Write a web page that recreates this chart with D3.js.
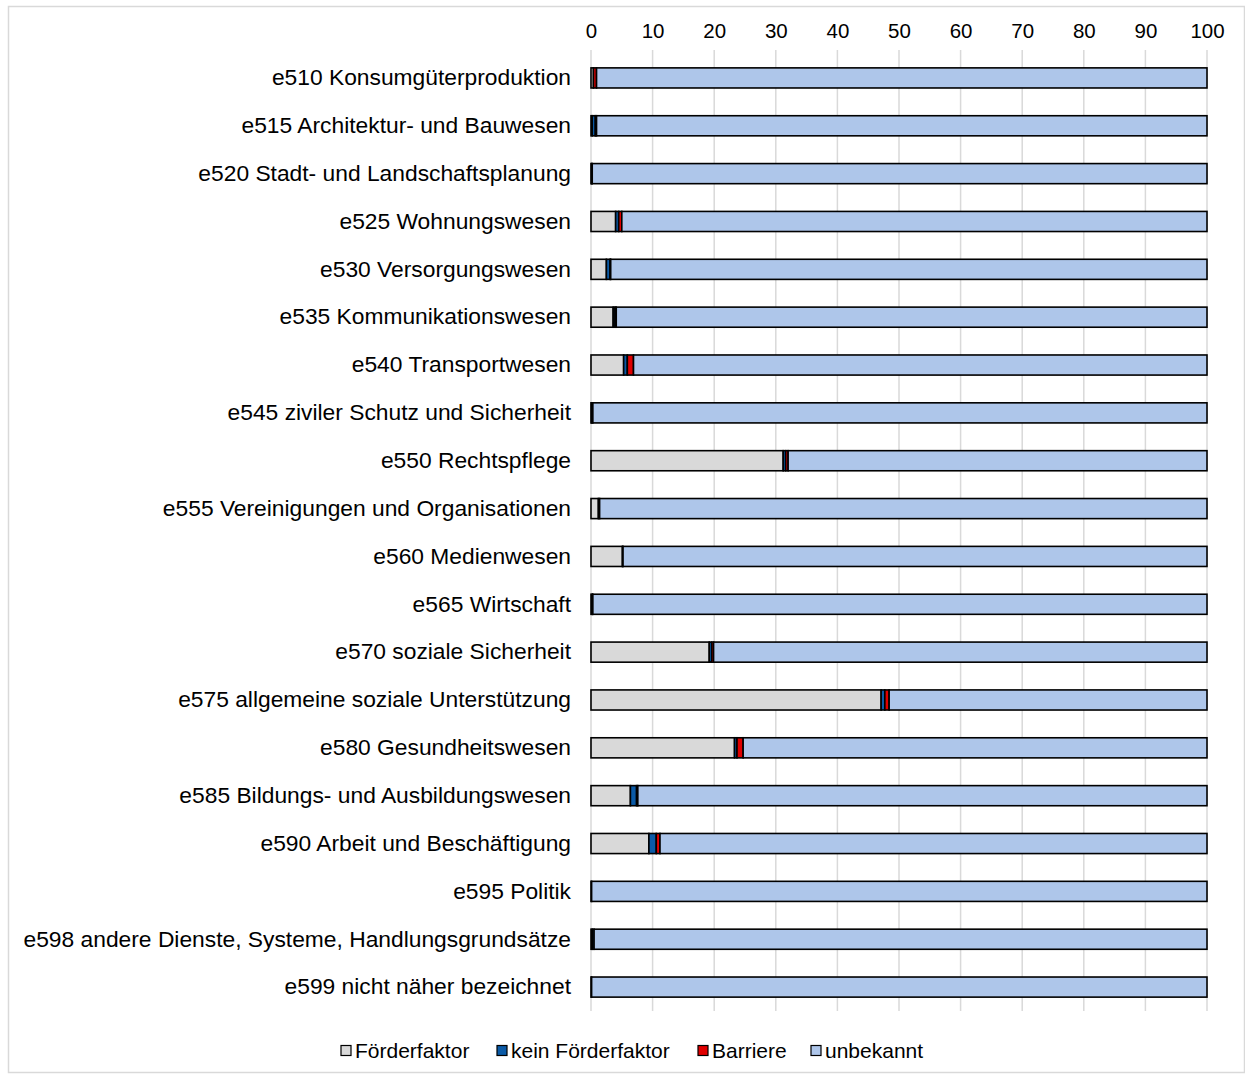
<!DOCTYPE html>
<html><head><meta charset="utf-8">
<script src="https://cdn.jsdelivr.net/npm/d3@7"></script>
<style>body{margin:0;background:#fff}svg{display:block;font-family:"Liberation Sans",Arial,sans-serif}</style>
</head><body><svg id="c" width="1245" height="1076"></svg>
<script>
const categories = ["e510 Konsumgüterproduktion","e515 Architektur- und Bauwesen","e520 Stadt- und Landschaftsplanung","e525 Wohnungswesen","e530 Versorgungswesen","e535 Kommunikationswesen","e540 Transportwesen","e545 ziviler Schutz und Sicherheit","e550 Rechtspflege","e555 Vereinigungen und Organisationen","e560 Medienwesen","e565 Wirtschaft","e570 soziale Sicherheit","e575 allgemeine soziale Unterstützung","e580 Gesundheitswesen","e585 Bildungs- und Ausbildungswesen","e590 Arbeit und Beschäftigung","e595 Politik","e598 andere Dienste, Systeme, Handlungsgrundsätze","e599 nicht näher bezeichnet"];
const foerderfaktor     = [0.4,0.2,0.1,4.0,2.5,3.6,5.3,0.1,31.2,1.2,5.1,0.2,19.2,47.1,23.3,6.4,9.4,0.1,0.2,0.1];
const keinFoerderfaktor = [0.0,0.5,0.1,0.5,0.6,0.3,0.6,0.2,0.4,0.2,0.1,0.1,0.4,0.6,0.4,1.0,1.2,0.0,0.3,0.0];
const barriere          = [0.5,0.2,0.0,0.5,0.1,0.2,1.0,0.0,0.4,0.0,0.0,0.0,0.3,0.7,1.0,0.2,0.6,0.0,0.0,0.0];
const unbekannt         = [99.1,99.1,99.8,95.0,96.8,95.9,93.1,99.7,68.0,98.6,94.8,99.7,80.1,51.6,75.3,92.4,88.8,99.9,99.5,99.9];
const seriesNames = ["Förderfaktor","kein Förderfaktor","Barriere","unbekannt"];
const seriesColors = ["#d9d9d9","#0b5aa6","#e00000","#aec6ea"];
const tickValues = [0,10,20,30,40,50,60,70,80,90,100];

const svg = d3.select("#c");
svg.append("rect").attr("x",8.5).attr("y",6.5).attr("width",1236).attr("height",1066)
  .attr("fill","#fff").attr("stroke","#d9d9d9").attr("stroke-width",1.5);

const x = d3.scaleLinear().domain([0,100]).range([591,1207]);
const y = d3.scaleBand().domain(categories).range([54,1011]).paddingInner(0.58).paddingOuter(0.29);

svg.append("g").selectAll("line").data(tickValues).join("line")
  .attr("x1",d=>x(d)).attr("x2",d=>x(d)).attr("y1",50).attr("y2",1011)
  .attr("stroke","#d9d9d9").attr("stroke-width",1.5);

const ax = svg.append("g").attr("transform","translate(0,38)")
  .call(d3.axisTop(x).tickValues(tickValues).tickSize(0).tickPadding(0));
ax.select(".domain").remove();
ax.selectAll("text").attr("font-size",20.5).attr("fill","#000").attr("font-family","Liberation Sans, Arial, sans-serif");

const ay = svg.append("g").attr("transform","translate(571,0)")
  .call(d3.axisLeft(y).tickSize(0).tickPadding(0));
ay.select(".domain").remove();
ay.selectAll("text").attr("font-size",22.8).attr("fill","#000").attr("font-family","Liberation Sans, Arial, sans-serif");

const rows = categories.map((c,i)=>({cat:c,"Förderfaktor":foerderfaktor[i],"kein Förderfaktor":keinFoerderfaktor[i],"Barriere":barriere[i],"unbekannt":unbekannt[i]}));
const stack = d3.stack().keys(seriesNames)(rows);
svg.append("g").selectAll("g").data(stack).join("g")
  .attr("fill",(d,i)=>seriesColors[i])
  .selectAll("rect").data(d=>d.filter(p=>p[1]-p[0]>0)).join("rect")
  .attr("x",d=>x(d[0])).attr("width",d=>x(d[1])-x(d[0]))
  .attr("y",d=>y(d.data.cat)).attr("height",y.bandwidth())
  .attr("stroke","#000").attr("stroke-width",1.6);

const legX = [341,497,698,811];
const lg = svg.append("g").selectAll("g").data(seriesNames).join("g")
  .attr("transform",(d,i)=>`translate(${legX[i]},1051)`);
lg.append("rect").attr("x",0).attr("y",-5.5).attr("width",10).attr("height",10)
  .attr("fill",(d,i)=>seriesColors[i]).attr("stroke","#000").attr("stroke-width",1.2);
lg.append("text").attr("x",14).attr("y",0).attr("dy","0.35em").attr("font-size",21).text(d=>d);
</script></body></html>
